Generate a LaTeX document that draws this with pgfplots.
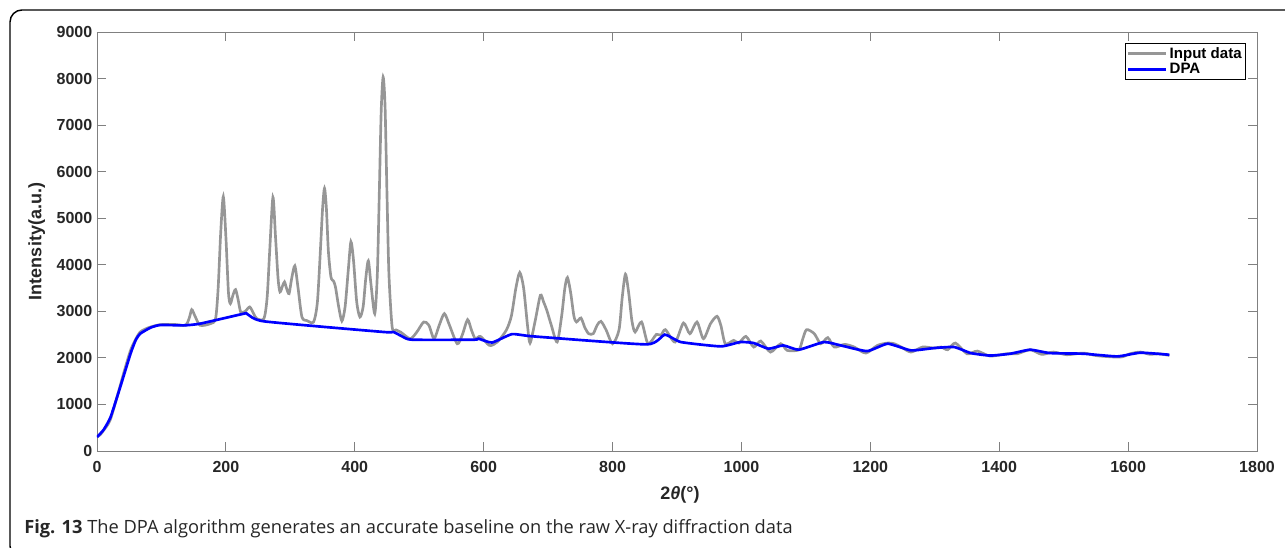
\documentclass[border=0pt]{standalone}
\usepackage{pgfplots}
\pgfplotsset{compat=1.18}
\usepackage{fontspec}
\setmainfont{Liberation Sans}
\newfontfamily\capfont{Open Sans}
\definecolor{tickgray}{RGB}{128,128,128}
\definecolor{datagray}{RGB}{150,150,150}
\definecolor{txt}{RGB}{38,38,38}
\begin{document}
\begin{tikzpicture}[x=0.75pt,y=0.75pt]
\useasboundingbox (0,0) rectangle (1285,548);
\draw[line width=1.1pt, rounded corners=9pt] (1300,538) -- (10,538) -- (10,-10) -- (1300,-10);
\begin{axis}[
  at={(72.75pt,72.75pt)}, anchor=south west,
  scale only axis, width=870pt, height=314.25pt,
  xmin=0, xmax=1800, ymin=0, ymax=9000,
  xtick={0,200,...,1800}, ytick={0,1000,...,9000},
  tick pos=both, tick align=inside,
  major tick length=7pt,
  axis line style={tickgray, line width=0.6pt},
  every tick/.style={tickgray, line width=0.6pt},
  ticklabel style={font=\fontsize{12}{14}\selectfont\bfseries, text=txt},
  xticklabel style={yshift=-4pt},
  /pgf/number format/assume math mode=true,
  scaled ticks=false,
  /pgf/number format/set thousands separator={},
  xlabel={\bfseries 2\textit{θ}(°)},
  ylabel={\bfseries Intensity(a.u.)},
  label style={font=\fontsize{13.5}{16}\selectfont, text=txt},
  xlabel style={at={(axis description cs:0.5026,-0.105)}, anchor=center},
  ylabel style={at={(axis description cs:-0.052,0.5)}, anchor=center, rotate=0},
  legend style={at={(0.9905,0.9737)}, anchor=north east, draw=black, line width=0.5pt,
    font=\fontsize{11.3}{13}\selectfont\bfseries, inner sep=1pt, row sep=-2pt,
    cells={anchor=west}},
  legend image code/.code={\draw[#1, line width=2.2pt] (0pt,0pt) -- (28pt,0pt);},
]
\addplot[datagray, line width=2pt, smooth, tension=0.45] coordinates {
(0,300)(5,350)(10,440)(20,650)(31,1156)(42,1700)(52,2160)(60,2400)(67,2556)(75,2620)
(83,2663)(98,2713)(119,2720)(137,2700)(143,2850)(147,3036)(152,2900)(160,2700)(176,2735)
(184,2843)(188,3500)(192,4700)(196,5463)(200,4600)(204,3400)(207,3166)(211,3350)(215,3467)
(219,3250)(223,2986)(230,3000)(237,3094)(243,2950)(248,2843)(259,2843)(264,3300)(268,4300)
(273,5449)(277,4600)(281,3700)(284,3417)(288,3550)(291,3632)(294,3500)(298,3381)(302,3700)
(307,3977)(312,3500)(318,2879)(326,2800)(336,2771)(342,3200)(347,4400)(350,5200)(353,5643)
(356,5200)(359,4300)(363,3740)(367,3650)(370,3525)(375,3100)(380,2793)(385,3100)(390,3900)
(394,4494)(398,4100)(403,3200)(408,2879)(413,3100)(417,3700)(421,4085)(425,3600)(431,2950)
(435,3800)(438,5500)(441,7300)(444,8033)(447,7400)(450,5500)(453,3800)(458,2663)(464,2600)
(471,2556)(486,2412)(496,2550)(507,2771)(515,2700)(523,2412)(531,2700)(539,2950)(547,2700)
(559,2304)(567,2500)(575,2821)(581,2600)(587,2412)(595,2462)(609,2268)(621,2340)(635,2592)
(643,2900)(650,3500)(656,3833)(662,3500)(668,2700)(672,2319)(680,2800)(688,3345)(693,3200)
(698,3022)(705,2700)(714,2340)(721,2900)(726,3500)(730,3726)(735,3400)(740,2900)(744,2771)
(751,2857)(757,2650)(763,2520)(770,2520)(776,2700)(782,2785)(790,2600)(800,2304)(810,2600)
(815,3300)(820,3798)(825,3400)(830,2800)(835,2556)(845,2771)(855,2304)(868,2505)(875,2484)
(882,2606)(897,2340)(910,2749)(920,2520)(931,2771)(941,2412)(952,2735)(962,2893)(968,2700)
(975,2304)(988,2376)(996,2319)(1007,2462)(1019,2233)(1030,2362)(1045,2125)(1061,2304)
(1071,2161)(1089,2175)(1095,2400)(1101,2606)(1113,2520)(1123,2304)(1134,2434)(1144,2233)
(1160,2290)(1175,2233)(1193,2103)(1211,2268)(1227,2319)(1237,2304)(1248,2233)(1263,2125)
(1281,2233)(1299,2211)(1310,2233)(1320,2175)(1332,2319)(1350,2089)(1366,2146)(1386,2039)
(1412,2089)(1428,2089)(1448,2175)(1466,2075)(1484,2125)(1505,2068)(1531,2103)(1552,2046)
(1588,2017)(1603,2089)(1619,2125)(1634,2075)(1647,2089)(1664,2053)
};
\addlegendentry{Input data}
\addplot[blue, line width=2pt, smooth, tension=0.3] coordinates {
(0,300)(10,450)(21,725)(36,1371)(52,2089)(60,2380)(67,2520)(83,2649)(98,2706)(135,2699)
(160,2735)(228,2950)(233,2943)(259,2785)(445,2556)(460,2556)(475,2450)(489,2390)(585,2390)
(592,2412)(613,2330)(644,2510)(677,2462)(853,2290)(881,2500)(906,2340)(968,2247)(998,2340)
(1019,2319)(1042,2197)(1065,2268)(1089,2175)(1128,2340)(1154,2268)(1195,2146)(1227,2304)
(1263,2161)(1299,2211)(1330,2233)(1356,2103)(1386,2050)(1417,2089)(1448,2175)(1479,2103)
(1531,2089)(1583,2032)(1619,2111)(1664,2067)
};
\addlegendentry{DPA}
\end{axis}
\node[anchor=base west, inner sep=0pt, text=txt] at (24,14) {\capfont\fontsize{13.7}{15}\selectfont\textbf{Fig. 13} The DPA algorithm generates an accurate baseline on the raw X-ray diffraction data};
\end{tikzpicture}
\end{document}
